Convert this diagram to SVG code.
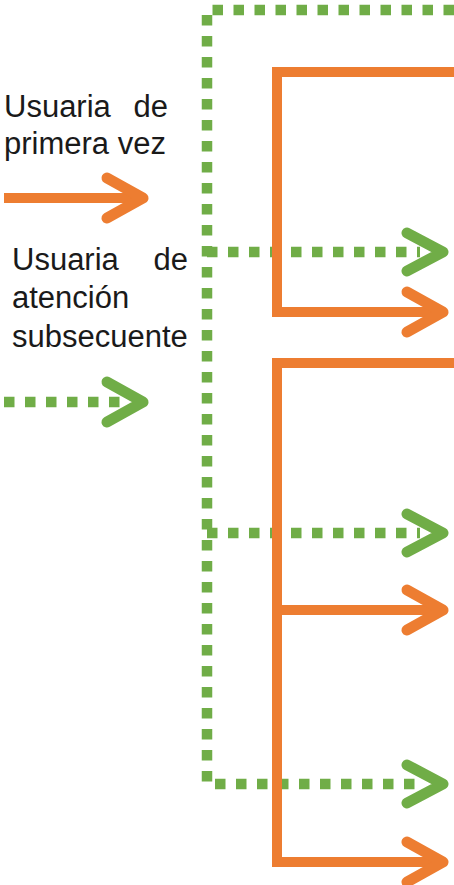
<svg xmlns="http://www.w3.org/2000/svg" width="454" height="885" viewBox="0 0 454 885">
<style>
.t{font-family:"Liberation Sans",Arial,sans-serif;font-size:31px;fill:#1a1a1a}
.o{fill:none;stroke:#ED7D31;stroke-width:10}
.g{fill:none;stroke:#70AD47;stroke-width:10.5;stroke-dasharray:10.5 10.5}
.oh{fill:none;stroke:#ED7D31;stroke-width:11;stroke-linecap:round;stroke-linejoin:round}
.gh{fill:none;stroke:#70AD47;stroke-width:11;stroke-linecap:round;stroke-linejoin:round}
</style>
<rect width="454" height="885" fill="#fff"/>
<g id="legend-primera">
<text class="t" x="4" y="117">Usuaria</text>
<text class="t" x="168" y="117" text-anchor="end">de</text>
<text class="t" x="4" y="154">primera vez</text>
<path class="o" d="M4,198 H140"/>
<polyline class="oh" points="107,178 143,198 107,218"/>
</g>
<g id="legend-subsecuente">
<text class="t" x="12" y="270">Usuaria</text>
<text class="t" x="188" y="270" text-anchor="end">de</text>
<text class="t" x="12" y="308">atención</text>
<text class="t" x="12" y="347">subsecuente</text>
<path class="g" d="M4,402 H120"/>
<polyline class="gh" points="107,382 143,402 107,422"/>
</g>
<g id="connectors">
<path class="g" d="M454,10 H207 V784 H420"/>
<path class="g" d="M207,252 H420"/>
<path class="g" d="M207,533 H420"/>
<polyline class="gh" points="407,233 443,252 407,271"/>
<polyline class="gh" points="407,514 443,533 407,552"/>
<polyline class="gh" points="407,765 443,784 407,803"/>
<path class="o" d="M454,72 H277 V312 H440"/>
<polyline class="oh" points="407,292 443,312 407,332"/>
<path class="o" d="M454,363 H277 V862 H440"/>
<path class="o" d="M277,610 H440"/>
<polyline class="oh" points="407,590 443,610 407,630"/>
<polyline class="oh" points="407,842 443,862 407,882"/>
</g>
</svg>
